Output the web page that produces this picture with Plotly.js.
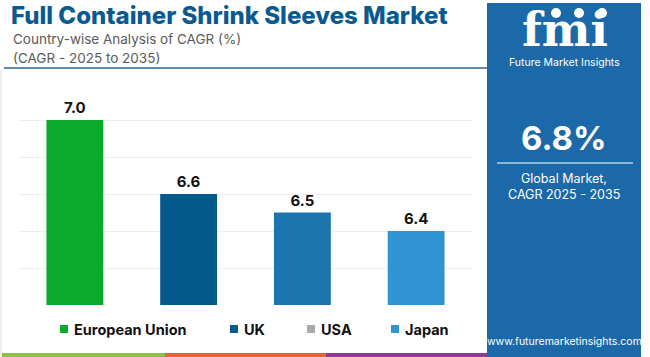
<!DOCTYPE html>
<html>
<head>
<meta charset="utf-8">
<script src="https://cdn.plot.ly/plotly-3.0.1.min.js"></script>
<style>html,body{margin:0;padding:0;background:#fff;}#chart{width:650px;height:357px;}</style>
</head>
<body>
<div id="chart"></div>
<script>
// ---- data ----
const countries = ["European Union", "UK", "USA", "Japan"];
const cagr = [7.0, 6.6, 6.5, 6.4];
const barColors = ["#0aab2d", "#03588c", "#1c75ae", "#3094d3"];
const legendColors = ["#0aab2d", "#03588c", "#aaaaaa", "#3094d3"];
const globalCagr = "6.8%";
const titleText = "Full Container Shrink Sleeves Market";
const subtitleLines = ["Country-wise Analysis of CAGR (%)", "(CAGR - 2025 to 2035)"];

const W = 650, H = 357;
const mL = 18, mR = 177, mT = 83, mB = 52;
const pw = W - mL - mR, ph = H - mT - mB;
const px = x => (x - mL) / pw;           // pixel -> paper x
const py = y => (H - mB - y) / ph;       // pixel -> paper y

const font = "Inter, 'Open Sans', sans-serif";

const traces = [{
  type: "bar",
  x: countries,
  y: cagr,
  width: 0.5,
  marker: {color: barColors},
  text: cagr.map(v => v.toFixed(1)),
  textposition: "outside",
  textfont: {family: font, size: 15, color: "#111", weight: 700},
  cliponaxis: false,
  showlegend: false,
  hoverinfo: "skip"
}];

const shapes = [
  {type: "line", xref: "paper", yref: "paper", x0: px(4), x1: px(487), y0: py(68), y1: py(68),
   line: {color: "#2a6496", width: 1.5}},
  {type: "line", xref: "paper", yref: "paper", x0: px(1), x1: px(1), y0: py(70), y1: py(356),
   line: {color: "#dddddd", width: 1}},
  {type: "rect", xref: "paper", yref: "paper", x0: px(2), x1: px(165), y0: py(353), y1: py(357), fillcolor: "#8bc34a", line: {width: 0}},
  {type: "rect", xref: "paper", yref: "paper", x0: px(165), x1: px(326), y0: py(353), y1: py(357), fillcolor: "#e0663a", line: {width: 0}},
  {type: "rect", xref: "paper", yref: "paper", x0: px(326), x1: px(487), y0: py(353), y1: py(357), fillcolor: "#8e3a91", line: {width: 0}},
  {type: "rect", xref: "paper", yref: "paper", x0: px(487), x1: px(641), y0: py(3), y1: py(357), fillcolor: "#1b69a8", line: {width: 0}, layer: "below"},
  {type: "line", xref: "paper", yref: "paper", x0: px(497), x1: px(633), y0: py(163), y1: py(163),
   line: {color: "#b8d0e6", width: 1.5}},
  {type: "circle", xref: "paper", yref: "paper", x0: px(551), x1: px(561), y0: py(8), y1: py(18), fillcolor: "#ffffff", line: {width: 0}},
  {type: "circle", xref: "paper", yref: "paper", x0: px(574), x1: px(584), y0: py(8), y1: py(18), fillcolor: "#ffffff", line: {width: 0}},
  {type: "circle", xref: "paper", yref: "paper", x0: px(597), x1: px(607), y0: py(8), y1: py(18), fillcolor: "#ffffff", line: {width: 0}}
];

const ann = (x, y, text, size, color, weight, anchor, fam) => ({
  xref: "paper", yref: "paper", x: px(x), y: py(y), text: text, showarrow: false,
  xanchor: anchor || "left", yanchor: "middle",
  font: {family: fam || font, size: size, color: color, weight: weight || 400}
});

const annotations = [
  ann(11, 39, subtitleLines[0], 13.5, "#5a5a5a"),
  ann(11, 58, subtitleLines[1], 13.5, "#5a5a5a"),
  ann(565, 30, "fmi", 46, "#ffffff", 700, "center", "'DejaVu Serif', serif"),
  ann(564, 62, "Future Market Insights", 10.5, "#ffffff", 400, "center"),
  ann(564, 138, globalCagr, 33, "#ffffff", 700, "center"),
  ann(564, 178, "Global Market,", 12.5, "#ffffff", 400, "center"),
  ann(564, 194, "CAGR 2025 - 2035", 12.5, "#ffffff", 400, "center"),
  ann(564, 341, "www.futuremarketinsights.com", 10.5, "#ffffff", 400, "center")
];

// custom legend (swatch + label per country)
const legendSwatchX = [60, 230, 307, 391];
countries.forEach((c, i) => {
  const x0 = legendSwatchX[i];
  shapes.push({type: "rect", xref: "paper", yref: "paper", x0: px(x0), x1: px(x0 + 8),
    y0: py(325), y1: py(333), fillcolor: legendColors[i], line: {width: 0}});
  annotations.push(ann(x0 + 12, 329, c, 14.5, "#111111", 700, "left"));
});

const layout = {
  width: W, height: H,
  margin: {l: mL, r: mR, t: mT, b: mB, pad: 0},
  paper_bgcolor: "#ffffff", plot_bgcolor: "#ffffff",
  title: {text: titleText, x: 11 / W, xanchor: "left", xref: "container",
          y: 1 - 16 / H, yanchor: "middle", yref: "container",
          font: {family: font, size: 24, color: "#0b5a8f", weight: 800}},
  xaxis: {type: "category", range: [-0.5, 3.5], showticklabels: false, showgrid: false,
          zeroline: false, showline: false, fixedrange: true},
  yaxis: {range: [6.0, 7.2], dtick: 0.2, tick0: 6.0, showticklabels: false, showgrid: true,
          gridcolor: "#eeeeee", gridwidth: 1, zeroline: false, showline: false, fixedrange: true},
  showlegend: false,
  shapes: shapes,
  annotations: annotations
};

Plotly.newPlot("chart", traces, layout, {displayModeBar: false, staticPlot: true});
</script>
</body>
</html>
